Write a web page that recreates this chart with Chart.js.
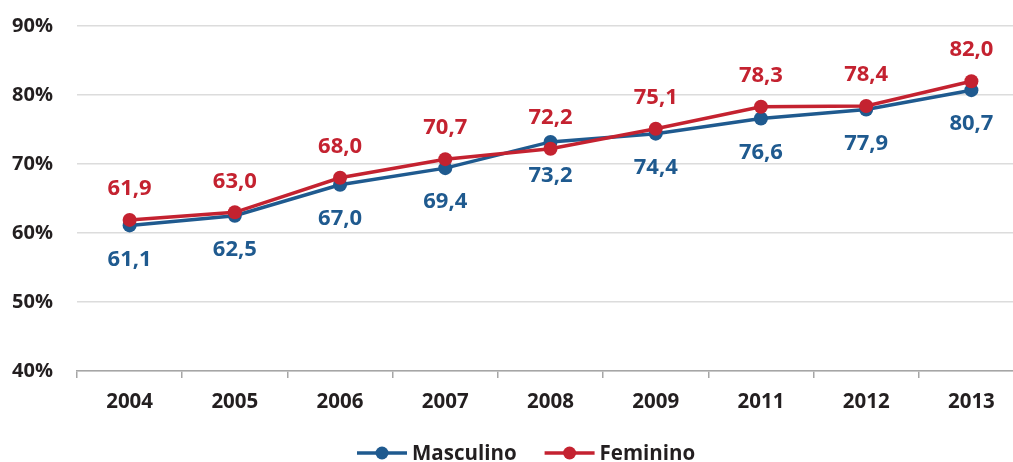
<!DOCTYPE html>
<html>
<head>
<meta charset="utf-8">
<script src="https://cdn.jsdelivr.net/npm/chart.js@4/dist/chart.umd.min.js"></script>
<style>
  html, body { margin: 0; padding: 0; background: #fff; overflow: hidden; }
  #wrap { width: 1031px; height: 462px; position: relative; }
</style>
</head>
<body>
<div id="wrap"><canvas id="lineChart"></canvas></div>
<script>
// dados do gráfico
const anos = ['2004', '2005', '2006', '2007', '2008', '2009', '2011', '2012', '2013'];
const masculino = [61.1, 62.5, 67.0, 69.4, 73.2, 74.4, 76.6, 77.9, 80.7];
const feminino = [61.9, 63.0, 68.0, 70.7, 72.2, 75.1, 78.3, 78.4, 82.0];
const yTicks = [40, 50, 60, 70, 80, 90];

const AZUL = '#1f5a8f';
const VERMELHO = '#c42230';
const FONTE = '"Open Sans", "DejaVu Sans", sans-serif';

const fmt = v => v.toFixed(1).replace('.', ',');

// rótulos de valores: feminino acima, masculino abaixo
const rotulos = {
    id: 'rotulos',
    afterDatasetsDraw(chart) {
        const c = chart.ctx;
        c.save();
        c.font = 'bold 22px ' + FONTE;
        c.textAlign = 'center';
        c.textBaseline = 'middle';
        chart.data.datasets.forEach((ds, i) => {
            const meta = chart.getDatasetMeta(i);
            const acima = ds.label === 'Feminino';
            c.fillStyle = ds.borderColor;
            meta.data.forEach((pt, j) => {
                c.fillText(fmt(ds.data[j]), pt.x, acima ? pt.y - 31 : pt.y + 34);
            });
        });
        c.restore();
    }
};

// legenda com linha e marcador
const legenda = {
    id: 'legenda',
    afterDraw(chart) {
        const c = chart.ctx;
        c.save();
        c.font = 'bold 20.5px ' + FONTE;
        c.textBaseline = 'middle';
        const y = 453;
        const itens = [chart.data.datasets[1], chart.data.datasets[0]];
        let x = 357;
        itens.forEach(d => {
            c.strokeStyle = d.borderColor;
            c.lineWidth = 3.5;
            c.beginPath();
            c.moveTo(x, y);
            c.lineTo(x + 50, y);
            c.stroke();
            c.fillStyle = d.borderColor;
            c.beginPath();
            c.arc(x + 25, y, 6.5, 0, Math.PI * 2);
            c.fill();
            c.fillStyle = '#231f20';
            c.fillText(d.label, x + 55, y + 1);
            x += 55 + c.measureText(d.label).width + 28;
        });
        c.restore();
    }
};

const ctx = document.getElementById('lineChart').getContext('2d');
new Chart(ctx, {
    type: 'line',
    data: {
        labels: anos,
        datasets: [{
            label: 'Feminino',
            data: feminino,
            borderColor: VERMELHO,
            backgroundColor: VERMELHO,
            pointBackgroundColor: VERMELHO,
            pointBorderWidth: 0,
            pointRadius: 7,
            borderWidth: 3.5,
            tension: 0,
            order: 0
        }, {
            label: 'Masculino',
            data: masculino,
            borderColor: AZUL,
            backgroundColor: AZUL,
            pointBackgroundColor: AZUL,
            pointBorderWidth: 0,
            pointRadius: 7,
            borderWidth: 3.5,
            tension: 0,
            order: 1
        }]
    },
    options: {
        responsive: true,
        maintainAspectRatio: false,
        animation: false,
        layout: { padding: { top: 26, left: 0, right: 0, bottom: 0 } },
        plugins: {
            legend: { display: false },
            tooltip: { enabled: false }
        },
        scales: {
            x: {
                offset: true,
                grid: { drawOnChartArea: false, drawTicks: true, tickLength: 7, offset: true, color: '#a6a6a6', lineWidth: 1.5 },
                border: { color: '#a6a6a6', width: 1.5 },
                ticks: { color: '#231f20', font: { family: FONTE, size: 20.5, weight: 'bold' }, padding: 12 },
                afterFit(axis) { axis.height = 91; }
            },
            y: {
                min: 40,
                max: 90,
                afterBuildTicks(axis) { axis.ticks = yTicks.map(v => ({ value: v })); },
                grid: { color: '#dcdcdc', lineWidth: 1.5, drawTicks: false },
                border: { display: false },
                ticks: {
                    color: '#231f20',
                    font: { family: FONTE, size: 20, weight: 'bold' },
                    padding: 24,
                    callback: v => v + '%'
                },
                afterFit(axis) {
                    axis.width = 77;
                    axis.paddingTop = 0;
                    axis.paddingBottom = 0;
                }
            }
        }
    },
    plugins: [rotulos, legenda]
});
</script>
</body>
</html>
